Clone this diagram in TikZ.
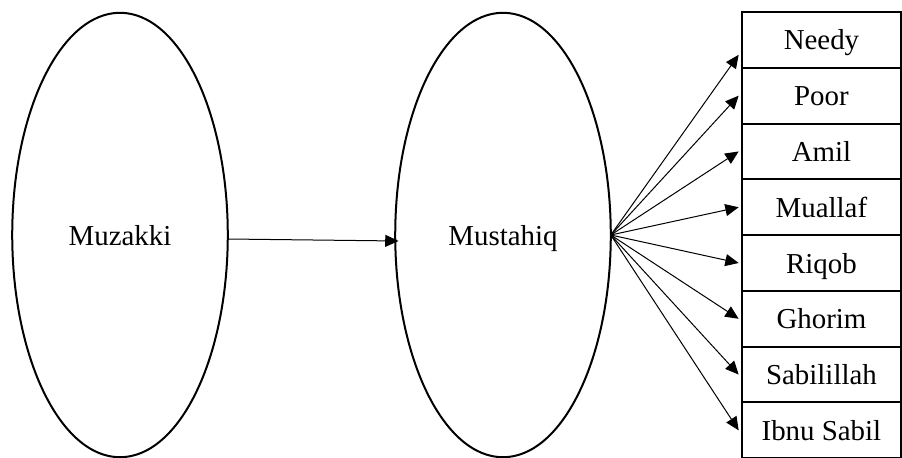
\documentclass[tikz,border=0pt]{standalone}
\usepackage{fontspec}
\setmainfont{Liberation Serif}
\usetikzlibrary{positioning, shapes.geometric, arrows.meta}

\tikzset{
  party/.style={ellipse, draw, line width=0.9pt, minimum width=97pt, minimum height=200pt, inner sep=0pt, outer sep=0pt, text height=9.6pt, text depth=0pt},
  rowbox/.style={draw, line width=0.9pt, minimum width=71.5pt, minimum height=25.1pt, inner sep=0pt, outer sep=0pt, text height=9.6pt, text depth=0.6pt},
  flow/.style={line width=0.45pt, -{Triangle[length=6pt, width=5.4pt]}}
}

\begin{document}
\begin{tikzpicture}[x=0.45pt, y=-0.45pt, font=\fontsize{13}{15}\selectfont]
  \useasboundingbox (0,0) rectangle (902,457);

  % the two parties
  \node[party] (muzakki) at (120,235) {Muzakki};
  \node[party] (mustahiq) at (503,235) {Mustahiq};

  % the eight groups
  \node[rowbox, anchor=north west] (needy) at (742,12) {Needy};
  \node[rowbox, below=0pt of needy] (poor) {Poor};
  \node[rowbox, below=0pt of poor] (amil) {Amil};
  \node[rowbox, below=0pt of amil] (muallaf) {Muallaf};
  \node[rowbox, below=0pt of muallaf] (riqob) {Riqob};
  \node[rowbox, below=0pt of riqob] (ghorim) {Ghorim};
  \node[rowbox, below=0pt of ghorim] (sabilillah) {Sabilillah};
  \node[rowbox, below=0pt of sabilillah] (ibnusabil) {Ibnu Sabil};

  \draw[flow] ([yshift=-1.8pt]muzakki.east) -- ([xshift=1.5pt, yshift=-2.7pt]mustahiq.west);
  \draw[flow] (mustahiq.east) -- ([xshift=-1.5pt, yshift=-6.7pt]needy.west);
  \foreach \grp in {poor, amil, muallaf, riqob, ghorim, sabilillah, ibnusabil}
    \draw[flow] (mustahiq.east) -- ([xshift=-1.5pt]\grp.west);
\end{tikzpicture}
\end{document}
